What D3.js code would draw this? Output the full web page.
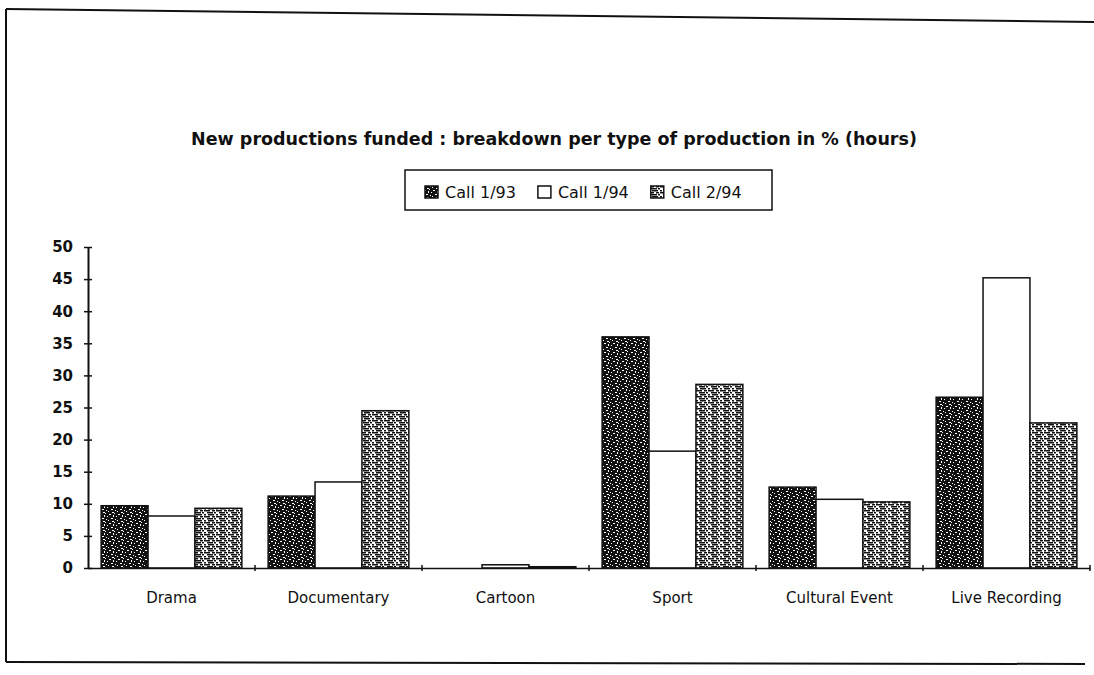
<!DOCTYPE html>
<html><head><meta charset="utf-8">
<script src="https://cdn.jsdelivr.net/npm/d3@7"></script>
<style>body{margin:0;background:#fff} svg{display:block}</style>
</head><body>
<svg id="c" width="1094" height="675"></svg>
<script>
const categories = ["Drama", "Documentary", "Cartoon", "Sport", "Cultural Event", "Live Recording"];
const seriesNames = ["Call 1/93", "Call 1/94", "Call 2/94"];
const call193 = [9.7, 11.2, 0, 36.0, 12.6, 26.6];
const call194 = [8.1, 13.4, 0.5, 18.2, 10.7, 45.2];
const call294 = [9.3, 24.5, 0.2, 28.6, 10.3, 22.6];
const yTicks = [0, 5, 10, 15, 20, 25, 30, 35, 40, 45, 50];
const titleText = "New productions funded : breakdown per type of production in % (hours)";

const seriesValues = [call193, call194, call294];
const fills = ["url(#speckle)", "#ffffff", "url(#hatch)"];
const FONT = "'DejaVu Sans', sans-serif";

const svg = d3.select("#c");

// patterns
const defs = svg.append("defs");
const sp = defs.append("pattern").attr("id", "speckle").attr("patternUnits", "userSpaceOnUse")
  .attr("width", 9).attr("height", 9);
sp.append("rect").attr("width", 9).attr("height", 9).attr("fill", "#121212");
[[1,1,2,1],[5,2,1,2],[3,5,2,1],[7,6,1,1],[0,7,1,1],[6,0,1,1],[4,8,2,1],[8,3,1,1]].forEach(r =>
  sp.append("rect").attr("x", r[0]).attr("y", r[1]).attr("width", r[2]).attr("height", r[3]).attr("fill", "#fff"));
const ht = defs.append("pattern").attr("id", "hatch").attr("patternUnits", "userSpaceOnUse")
  .attr("width", 12).attr("height", 6);
ht.append("rect").attr("width", 12).attr("height", 6).attr("fill", "#fff");
[[0,0,6,1.5],[8,0,3,1.5],[3,2,6,1.5],[10,2,2,1.5],[0,4,2,1.5],[4,4,6,1.5]].forEach(r =>
  ht.append("rect").attr("x", r[0]).attr("y", r[1]).attr("width", r[2]).attr("height", r[3]).attr("fill", "#111"));

// frame (scanned page border)
const frame = svg.append("g").attr("stroke", "#111").attr("stroke-width", 2).attr("fill", "none");
frame.append("path").attr("d", "M6,9 L1094,22");
frame.append("path").attr("d", "M6,9 L6,662");
frame.append("path").attr("d", "M6,662 L1085,664");

// title
svg.append("text").attr("x", 554).attr("y", 145).attr("text-anchor", "middle")
  .attr("font-family", FONT).attr("font-weight", "bold").attr("font-size", 17.5)
  .attr("fill", "#111").text(titleText);

// scales
const x = d3.scaleBand().domain(categories).range([88, 1090]).padding(0);
const xs = d3.scaleBand().domain(seriesNames).range([0, x.bandwidth()]).paddingInner(0).paddingOuter(0.28);
const y = d3.scaleLinear().domain([0, 50]).range([568, 247]);

// bars
const rows = [];
categories.forEach((c, i) => seriesNames.forEach((s, j) => rows.push({c, s, j, v: seriesValues[j][i]})));
svg.append("g").selectAll("rect").data(rows).join("rect")
  .attr("x", d => x(d.c) + xs(d.s))
  .attr("y", d => y(d.v))
  .attr("width", xs.bandwidth())
  .attr("height", d => y(0) - y(d.v))
  .attr("fill", d => fills[d.j])
  .attr("stroke", "#111").attr("stroke-width", 1.5);

// y axis
const ya = svg.append("g").attr("transform", "translate(88,0)")
  .call(d3.axisLeft(y).tickValues(yTicks).tickSize(4).tickSizeOuter(0).tickPadding(11));
ya.select(".domain").attr("stroke", "#111").attr("stroke-width", 2);
ya.selectAll(".tick line").attr("x1", 4).attr("stroke", "#111").attr("stroke-width", 1.5);
ya.selectAll(".tick text").attr("font-family", FONT).attr("font-weight", "bold")
  .attr("font-size", 15).attr("fill", "#111");

// x axis
const xa = svg.append("g").attr("transform", "translate(0,568)")
  .call(d3.axisBottom(x).tickSize(0).tickPadding(24));
xa.select(".domain").attr("stroke", "#111").attr("stroke-width", 1.5);
xa.selectAll(".tick text").attr("font-family", FONT).attr("font-size", 15).attr("fill", "#111");
xa.selectAll(".bnd").data(categories).join("line").attr("class", "bnd")
  .attr("x1", d => x(d) + x.bandwidth()).attr("x2", d => x(d) + x.bandwidth())
  .attr("y1", -3).attr("y2", 3).attr("stroke", "#111").attr("stroke-width", 1.5);

// legend
const lg = svg.append("g");
lg.append("rect").attr("x", 405).attr("y", 170).attr("width", 367).attr("height", 40)
  .attr("fill", "#fff").attr("stroke", "#111").attr("stroke-width", 1.5);
let lx = 425;
seriesNames.forEach((s, j) => {
  lg.append("rect").attr("x", lx).attr("y", 186).attr("width", 13).attr("height", 12)
    .attr("fill", fills[j]).attr("stroke", "#111").attr("stroke-width", 1.5);
  const t = lg.append("text").attr("x", lx + 20).attr("y", 198)
    .attr("font-family", FONT).attr("font-size", 16).attr("fill", "#111").text(s);
  lx = lx + 20 + t.node().getComputedTextLength() + 22;
});
</script>
</body></html>
